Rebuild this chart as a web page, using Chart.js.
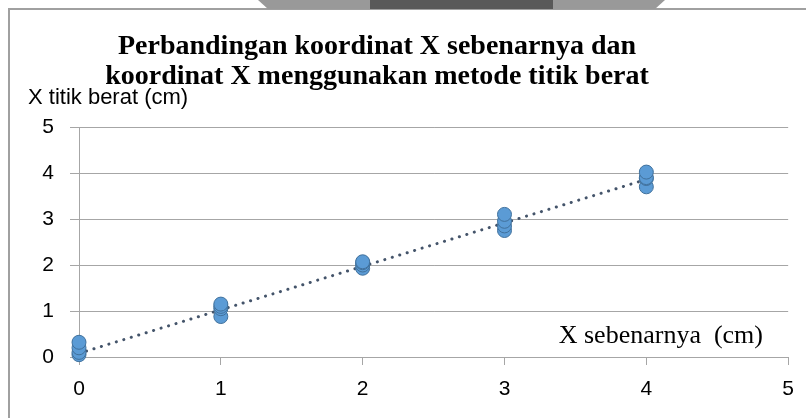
<!DOCTYPE html>
<html>
<head>
<meta charset="utf-8">
<script src="https://cdn.jsdelivr.net/npm/chart.js@4/dist/chart.umd.min.js"></script>
<style>
    html, body { margin: 0; padding: 0; background: #fff; overflow: hidden; }
    #wrap { position: relative; width: 806px; height: 418px; }
    #frame {
        position: absolute; left: 8px; top: 8px; width: 900px; height: 500px;
        border-left: 2px solid #a0a0a0; border-top: 2px solid #a0a0a0;
    }
    .tab { position: absolute; top: 0; height: 9px; }
    #tabLeft { left: 258px; width: 112px; background: #999; clip-path: polygon(0 0, 100% 0, 100% 100%, 10px 100%); }
    #tabMid { left: 370px; width: 183px; background: #595959; }
    #tabRight { left: 553px; width: 112px; background: #999; clip-path: polygon(0 0, 100% 0, calc(100% - 10px) 100%, 0 100%); }
    canvas { position: absolute; left: 0; top: 0; }
</style>
</head>
<body>
<div id="wrap">
    <div id="frame"></div>
    <div class="tab" id="tabLeft"></div>
    <div class="tab" id="tabMid"></div>
    <div class="tab" id="tabRight"></div>
    <canvas id="chart" width="806" height="418"></canvas>
</div>
<script>
// Data
const xSebenarnya = [0, 0, 0, 0, 1, 1, 1, 1, 2, 2, 2, 2, 3, 3, 3, 3, 4, 4, 4, 4];
const xTitikBerat = [0.05, 0.1, 0.2, 0.32, 0.88, 1.05, 1.1, 1.15, 1.93, 2.0, 2.05, 2.07, 2.75, 2.85, 2.95, 3.1, 3.7, 3.88, 3.9, 4.02];
// Trendline end points (as drawn in the picture)
const trendX = [0, 4];
const trendY = [0.08, 3.86];

const titleLines = ['Perbandingan koordinat X sebenarnya dan', 'koordinat X menggunakan metode titik berat'];
const yTitle = 'X titik berat (cm)';
const xTitle = 'X sebenarnya  (cm)';

const gridColor = '#a6a6a6';

// Texts drawn at fixed places like the original picture
const textPlugin = {
    id: 'texts',
    afterDraw(chart) {
        const ctx = chart.ctx;
        ctx.save();
        ctx.fillStyle = '#000';
        ctx.textBaseline = 'middle';

        ctx.textAlign = 'center';
        ctx.font = 'bold 28px "Liberation Serif"';
        ctx.fillText(titleLines[0], 377, 47);
        ctx.fillText(titleLines[1], 377, 77);

        ctx.textAlign = 'left';
        ctx.font = '22px "Liberation Sans"';
        ctx.fillText(yTitle, 28, 98);

        ctx.textAlign = 'right';
        ctx.font = '26px "Liberation Serif"';
        ctx.fillText(xTitle, 763, 336);
        ctx.restore();
    }
};

const points = xSebenarnya.map((x, i) => ({ x: x, y: xTitikBerat[i] }));
const trend = trendX.map((x, i) => ({ x: x, y: trendY[i] }));

new Chart(document.getElementById('chart'), {
    type: 'scatter',
    data: {
        datasets: [{
            label: 'X titik berat',
            data: points,
            order: 0,
            clip: false,
            pointRadius: 7,
            pointBackgroundColor: '#5b9bd5',
            pointBorderColor: '#41719c',
            pointBorderWidth: 1
        }, {
            type: 'line',
            label: 'Trend',
            data: trend,
            order: 1,
            showLine: true,
            pointRadius: 0,
            borderColor: '#44546a',
            borderWidth: 3,
            borderDash: [0.1, 7.7],
            borderCapStyle: 'round',
            fill: false
        }]
    },
    options: {
        responsive: false,
        animation: false,
        layout: { padding: { top: 127, left: 0, right: 11, bottom: 15 } },
        plugins: {
            legend: { display: false },
            tooltip: { enabled: false }
        },
        scales: {
            x: {
                type: 'linear',
                min: 0,
                max: 5,
                afterFit: scale => { scale.height = 46; },
                grid: { drawOnChartArea: false, color: gridColor, tickLength: 8 },
                border: { color: gridColor },
                ticks: {
                    stepSize: 1,
                    padding: 12,
                    color: '#000',
                    font: { family: 'Liberation Sans', size: 21 }
                }
            },
            y: {
                min: 0,
                max: 5,
                afterFit: scale => { scale.width = 79; },
                grid: { color: gridColor, tickLength: 9 },
                border: { color: gridColor },
                ticks: {
                    stepSize: 1,
                    padding: 16,
                    color: '#000',
                    font: { family: 'Liberation Sans', size: 21 }
                }
            }
        }
    },
    plugins: [textPlugin]
});
</script>
</body>
</html>
